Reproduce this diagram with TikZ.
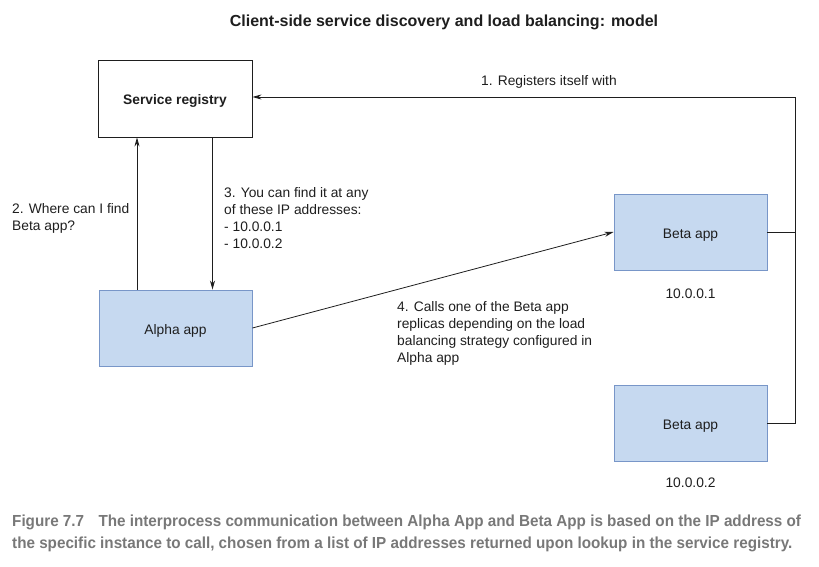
\documentclass[tikz,border=0pt]{standalone}
\usepackage{fontspec}
\setmainfont{Liberation Sans}
\newfontfamily\capfont[FakeStretch=0.952]{Liberation Sans}
\usetikzlibrary{arrows.meta}
\definecolor{appfill}{RGB}{198,217,240}
\definecolor{appdraw}{RGB}{120,150,200}
\definecolor{capgray}{RGB}{120,120,120}
\definecolor{ink}{RGB}{30,30,30}

\begin{document}
\begin{tikzpicture}[x=1pt,y=-1pt,
  every node/.style={font=\fontsize{13.8}{17}\selectfont,text=ink},
  regbox/.style={draw=ink,line width=0.9pt,minimum width=154pt,minimum height=77pt,text height=12pt,text depth=0pt,font=\fontsize{13.8}{17}\selectfont\bfseries},
  appbox/.style={draw=appdraw,fill=appfill,line width=0.9pt,minimum width=153pt,minimum height=76pt,text height=12pt,text depth=0pt},
  lbl/.style={align=left,inner sep=0pt},
  conn/.style={draw=ink,line width=0.8pt},
  arr/.style={conn,-{Stealth[length=9pt,width=5pt]}}]
\useasboundingbox (0,0) rectangle (819,567);
\node (title) at (444,22) {\fontsize{16}{19}\selectfont\bfseries Client-side service discovery and load balancing: model};
\node (registry) [regbox] at (175,98.5) {Service registry};
\node (alpha) [appbox] at (175.5,328) {Alpha app};
\node (beta1) [appbox] at (690.5,232) {Beta app};
\node (beta2) [appbox] at (690.5,423) {Beta app};
\node (ip1) at (690.5,294) {10.0.0.1};
\node (ip2) at (690.5,483) {10.0.0.2};
\coordinate (bus) at (795,97);

\draw[conn] (beta1.east) -| (bus);
\draw[conn] (beta2.east) -| (bus);
\draw[arr] (bus) -- (bus -| registry.east);
\draw[arr] ([xshift=-38.5pt]alpha.north) -- ([xshift=-38.5pt]alpha.north |- registry.south);
\draw[arr] ([xshift=37.5pt]registry.south) -- ([xshift=37.5pt]registry.south |- alpha.north);
\draw[arr] (alpha.east) -- (beta1.west);

\node (l1) [lbl,anchor=west] at (481,82) {1. Registers itself with};
\node (l2) [lbl,anchor=west] at (12,218) {2. Where can I find\\Beta app?};
\node (l3) [lbl,anchor=west] at (224,218) {3. You can find it at any\\of these IP addresses:\\- 10.0.0.1\\- 10.0.0.2};
\node (l4) [lbl,anchor=west] at (397,333) {4. Calls one of the Beta app\\replicas depending on the load\\balancing strategy configured in\\Alpha app};

\node (caption) [lbl,anchor=west,text=capgray,font=\capfont\fontsize{16}{22}\selectfont\bfseries] at (12,533)
  {Figure 7.7\hspace{0.9em}The interprocess communication between Alpha App and Beta App is based on the IP address of\\
   the specific instance to call, chosen from a list of IP addresses returned upon lookup in the service registry.};
\end{tikzpicture}
\end{document}
